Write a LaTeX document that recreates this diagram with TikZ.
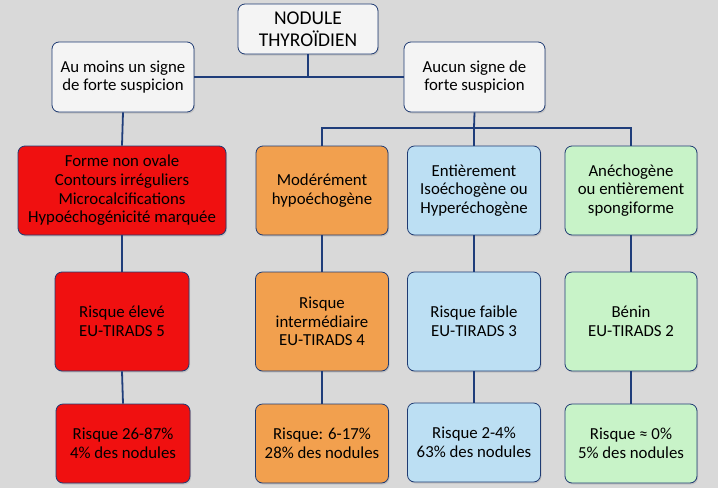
\documentclass[tikz,border=0pt]{standalone}
\usepackage{fontspec}
\setmainfont{Carlito}
\usetikzlibrary{shadows}
\definecolor{bg}{HTML}{D9D9D9}
\definecolor{edge}{HTML}{1F3B73}
\definecolor{wline}{HTML}{1F3D7A}
\definecolor{cwhite}{HTML}{F4F4F4}
\definecolor{cred}{HTML}{F01010}
\definecolor{corange}{HTML}{F2A04E}
\definecolor{cblue}{HTML}{BCDFF3}
\definecolor{cgreen}{HTML}{C8F3C8}
\tikzset{
  box/.style={draw=edge, line width=0.8pt, rounded corners=7pt, align=center,
    inner sep=2pt, text=black, font=\fontsize{16.8}{18.6}\selectfont,
    drop shadow={opacity=0.25, shadow xshift=1pt, shadow yshift=-1.5pt}},
  link/.style={draw=wline, line width=1.8pt},
}
\begin{document}
\begin{tikzpicture}[x=1pt,y=-1pt]
\fill[bg] (0,0) rectangle (718,488);
\useasboundingbox (0,0) rectangle (718,488);

% top level
\node[box, fill=cwhite, minimum width=140pt, minimum height=50pt, font=\fontsize{19.5}{21.5}\selectfont] (title) at (308,29) {NODULE\\THYROÏDIEN};
\node[box, fill=cwhite, minimum width=142pt, minimum height=70pt] (left1) at (123,77) {Au moins un signe\\de forte suspicion};
\node[box, fill=cwhite, minimum width=141pt, minimum height=70pt] (right1) at (474.5,77) {Aucun signe de\\forte suspicion};

% row 2
\node[box, fill=cred, minimum width=208pt, minimum height=89pt] (red2) at (122,190.5) {Forme non ovale\\Contours irréguliers\\Microcalcifications\\Hypoéchogénicité marquée};
\node[box, fill=corange, minimum width=132pt, minimum height=89pt] (or2) at (322,190.5) {Modérément\\hypoéchogène};
\node[box, fill=cblue, minimum width=133pt, minimum height=89pt] (bl2) at (474,190.5) {Entièrement\\Isoéchogène ou\\Hyperéchogène};
\node[box, fill=cgreen, minimum width=132pt, minimum height=89pt] (gr2) at (631,190.5) {Anéchogène\\ou entièrement\\spongiforme};

% row 3
\node[box, fill=cred, minimum width=134pt, minimum height=99pt] (red3) at (122,321.5) {Risque élevé\\EU-TIRADS 5};
\node[box, fill=corange, minimum width=133pt, minimum height=99pt] (or3) at (322,321.5) {Risque\\intermédiaire\\EU-TIRADS 4};
\node[box, fill=cblue, minimum width=133pt, minimum height=99pt] (bl3) at (474,321.5) {Risque faible\\EU-TIRADS 3};
\node[box, fill=cgreen, minimum width=132pt, minimum height=99pt] (gr3) at (631,321.5) {Bénin\\EU-TIRADS 2};

% row 4
\node[box, fill=cred, minimum width=134pt, minimum height=79pt] (red4) at (123,443.5) {Risque 26-87\%\\4\% des nodules};
\node[box, fill=corange, minimum width=133pt, minimum height=79pt] (or4) at (322,443.5) {Risque: 6-17\%\\28\% des nodules};
\node[box, fill=cblue, minimum width=133pt, minimum height=79pt] (bl4) at (474,442.5) {Risque 2-4\%\\63\% des nodules};
\node[box, fill=cgreen, minimum width=132pt, minimum height=79pt] (gr4) at (631,443.5) {Risque ≈ 0\%\\5\% des nodules};

% connectors
\coordinate (bus) at (474,128);
\draw[link] (left1.east) -- (right1.west);
\draw[link] (title.south) -- (title.south |- left1.east);
\draw[link] (left1.south) -- (red2.north);
\draw[link] (right1.south) -- (bus);
\draw[link] (or2.north) |- (bus) -| (gr2.north);
\draw[link] (bus) -- (bl2.north);
\draw[link] (red2.south) -- (red3.north);
\draw[link] (or2.south) -- (or3.north);
\draw[link] (bl2.south) -- (bl3.north);
\draw[link] (gr2.south) -- (gr3.north);
\draw[link] (red3.south) -- (red4.north);
\draw[link] (or3.south) -- (or4.north);
\draw[link] (bl3.south) -- (bl4.north);
\draw[link] (gr3.south) -- (gr4.north);
\end{tikzpicture}
\end{document}
